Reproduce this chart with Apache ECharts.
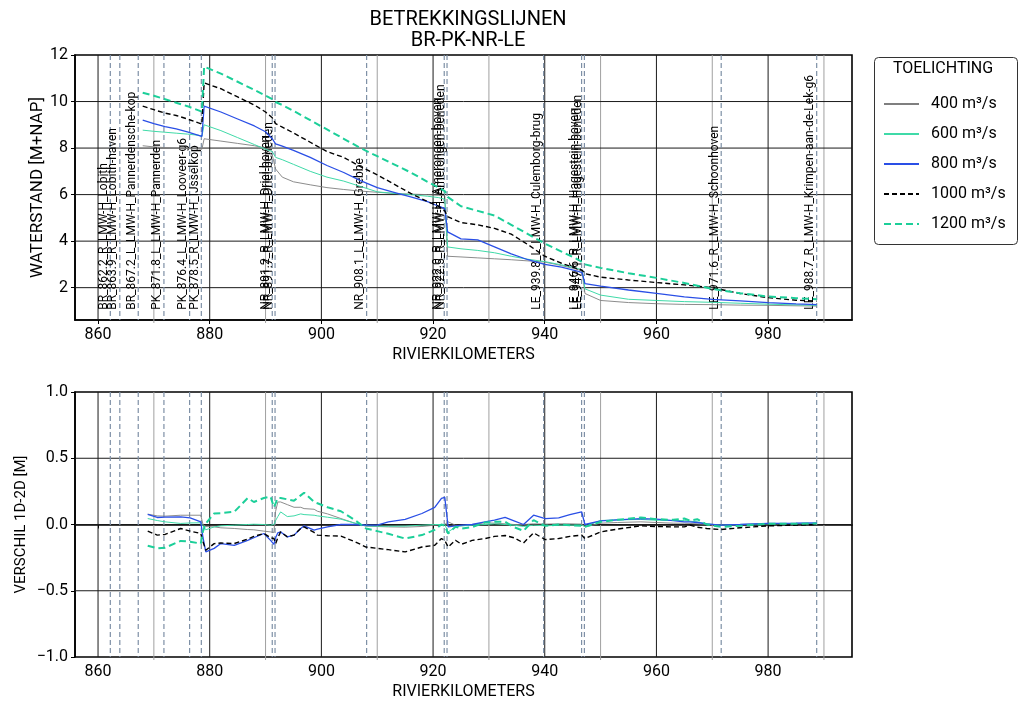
<!DOCTYPE html>
<html><head><meta charset="utf-8">
<script src="https://cdn.jsdelivr.net/npm/echarts@6/dist/echarts.min.js"></script>
<style>html,body{margin:0;padding:0;background:#fff}#c{width:1021px;height:704px}</style>
</head><body><div id="c"></div><script>
const FONT = 'Roboto, "DejaVu Sans", sans-serif';

// ---- data ----
const seriesNames = ['400 m³/s', '600 m³/s', '800 m³/s', '1000 m³/s', '1200 m³/s'];

const stationKm = [862.2, 863.9, 867.2, 871.8, 876.4, 878.5, 891.2, 891.7, 908.1, 922.0, 922.5, 939.8, 946.6, 947.1, 971.6, 988.7];
const stationLabels = ['BR_862.2_R_LMW-H_Lobith', 'BR_863.9_R_LMW-H_Lobith-haven', 'BR_867.2_L_LMW-H_Pannerdensche-kop',
  'PK_871.8_L_LMW-H_Pannerden', 'PK_876.4_L_LMW-H_Looveer-g6', 'PK_878.5_R_LMW-H_IJsselkop',
  'NR_891.2_R_LMW-H_Driel-boven', 'NR_891.7_R_LMW-H_Driel-beneden', 'NR_908.1_L_LMW-H_Grebbe',
  'NR_922.0_R_LMW-H_Amerongen-boven', 'NR_922.5_R_LMW-H_Amerongen-beneden', 'LE_939.8_L_LMW-H_Culemborg-brug',
  'LE_946.6_R_LMW-H_Hagestein-boven', 'LE_947.1_R_LMW-H_Hagestein-beneden', 'LE_971.6_R_LMW-H_Schoonhoven',
  'LE_988.7_R_LMW-H_Krimpen-aan-de-Lek-g6'];
const stationLabelY = 1.05;

const xTicks = [860, 880, 900, 920, 940, 960, 980];
const xMinorTicks = [870, 890, 910, 930, 950, 970, 990];
const topYTicks = [2, 4, 6, 8, 10, 12];
const botYTicks = [-1, -0.5, 0, 0.5, 1];

const topKm = [868, 870, 872, 874, 876, 878, 878.6, 879.0, 882, 885, 888, 890, 891.2, 891.8, 893, 895, 898, 901, 904, 907, 910, 913, 916, 919, 921, 922.1, 922.6, 925, 928, 931, 934, 937, 940, 943, 946, 946.7, 947.2, 950, 955, 960, 965, 970, 975, 980, 985, 988.7];
const top400 = [8.1, 8.05, 8.02, 8.0, 7.98, 7.96, 7.95, 8.4, 8.3, 8.2, 8.1, 8.0, 7.7, 7.1, 6.75, 6.55, 6.42, 6.3, 6.22, 6.15, 6.1, 6.05, 6.02, 6.0, 5.97, 5.95, 3.35, 3.32, 3.28, 3.24, 3.2, 3.15, 3.1, 2.95, 2.78, 2.7, 1.75, 1.45, 1.36, 1.31, 1.28, 1.27, 1.25, 1.24, 1.22, 1.21];
const top600 = [8.77, 8.72, 8.68, 8.64, 8.6, 8.55, 8.5, 9.0, 8.75, 8.45, 8.15, 7.95, 7.85, 7.6, 7.5, 7.3, 7.0, 6.75, 6.58, 6.35, 6.12, 6.05, 6.0, 5.93, 5.87, 5.8, 3.75, 3.67, 3.6, 3.5, 3.35, 3.22, 3.12, 2.98, 2.82, 2.75, 1.95, 1.68, 1.5, 1.45, 1.4, 1.37, 1.33, 1.29, 1.26, 1.24];
const top800 = [9.2, 9.05, 8.92, 8.82, 8.7, 8.55, 8.5, 9.8, 9.55, 9.25, 8.95, 8.7, 8.4, 8.18, 8.08, 7.9, 7.6, 7.25, 6.95, 6.6, 6.3, 6.1, 5.9, 5.7, 5.5, 5.4, 4.4, 4.1, 4.05, 3.75, 3.45, 3.2, 3.0, 2.88, 2.7, 2.65, 2.17, 2.07, 1.9, 1.75, 1.6, 1.5, 1.43, 1.36, 1.3, 1.27];
const top1000 = [9.8, 9.65, 9.5, 9.4, 9.25, 9.08, 9.03, 10.8, 10.55, 10.2, 9.85, 9.55, 9.3, 9.05, 8.9, 8.65, 8.25, 7.85, 7.6, 7.2, 6.85, 6.45, 6.05, 5.7, 5.5, 5.3, 5.05, 4.8, 4.7, 4.55, 4.3, 3.85, 3.35, 3.05, 2.8, 2.75, 2.6, 2.45, 2.33, 2.22, 2.12, 2.0, 1.75, 1.57, 1.46, 1.42];
const top1200 = [10.38, 10.25, 10.1, 9.95, 9.8, 9.62, 9.56, 11.5, 11.2, 10.85, 10.5, 10.25, 10.1, 9.98, 9.85, 9.6, 9.2, 8.8, 8.4, 8.0, 7.65, 7.3, 6.95, 6.55, 6.3, 6.15, 5.9, 5.5, 5.3, 5.1, 4.7, 4.3, 3.9, 3.55, 3.2, 3.1, 3.0, 2.85, 2.62, 2.42, 2.2, 1.95, 1.76, 1.62, 1.55, 1.5];

const botKm = [868.9, 870.6, 872, 874.8, 876.5, 878.4, 878.8, 879.3, 880.8, 882.0, 884.4, 886.8, 887.9, 889.7, 890.9, 891.5, 891.8, 892.2, 892.7, 893.9, 895.1, 896.3, 896.9, 898.7, 899.3, 901.1, 903.5, 906, 908, 910, 912, 915, 918, 920.3, 921.5, 922.1, 922.7, 924, 925.1, 927, 929.3, 931, 932.9, 934.5, 936.2, 938, 940.1, 942.5, 944.5, 946.6, 947.2, 950, 953, 957.2, 960, 963, 965, 966, 967.3, 969, 971.5, 975, 980, 985, 988.7];
const bot400 = [0.078, 0.065, 0.063, 0.07, 0.07, 0.07, 0.0, -0.015, -0.018, -0.025, -0.03, -0.038, -0.04, -0.05, -0.056, -0.06, 0.1, 0.17, 0.17, 0.15, 0.13, 0.13, 0.12, 0.115, 0.1, 0.08, 0.045, 0.01, -0.013, -0.015, -0.018, -0.02, -0.015, -0.005, 0, 0, 0.02, -0.005, -0.01, 0, 0.013, 0.01, 0.005, 0, 0, 0.005, 0.003, 0.005, 0.005, 0.003, -0.018, 0.01, 0.015, 0.02, 0.015, 0.01, 0.01, 0.008, 0.005, 0, -0.005, 0, 0.005, 0.005, 0.005];
const bot600 = [0.045, 0.03, 0.02, 0.008, 0.012, 0.013, -0.01, -0.04, -0.018, -0.01, -0.005, 0, 0.002, 0, -0.005, 0, 0.03, 0.06, 0.095, 0.06, 0.065, 0.08, 0.075, 0.07, 0.065, 0.055, 0.04, 0.01, -0.01, -0.013, -0.013, -0.012, -0.005, 0, 0, 0, -0.056, -0.02, -0.01, -0.005, 0, 0.005, 0, -0.005, -0.015, -0.005, -0.01, -0.005, -0.005, -0.005, -0.015, 0.03, 0.035, 0.038, 0.032, 0.03, 0.03, 0.025, 0.02, 0.005, -0.005, 0, 0.005, 0.008, 0.008];
const bot800 = [0.076, 0.053, 0.055, 0.058, 0.05, 0.02, -0.1, -0.207, -0.18, -0.144, -0.157, -0.12, -0.1, -0.068, -0.12, -0.15, -0.1, -0.063, -0.056, -0.093, -0.08, -0.03, -0.01, -0.043, -0.035, -0.018, 0, 0, -0.005, -0.005, 0.02, 0.038, 0.083, 0.129, 0.197, 0.205, -0.018, -0.01, -0.005, 0, 0.02, 0.033, 0.053, 0.028, 0, 0.07, 0.045, 0.05, 0.075, 0.096, 0, 0.028, 0.035, 0.045, 0.04, 0.03, 0.02, 0.02, 0.015, 0.005, -0.005, 0, 0.008, 0.01, 0.013];
const bot1000 = [-0.05, -0.08, -0.075, -0.03, -0.05, -0.068, -0.13, -0.194, -0.144, -0.14, -0.144, -0.11, -0.09, -0.068, -0.1, -0.106, -0.144, -0.1, -0.056, -0.093, -0.08, -0.03, -0.018, -0.06, -0.08, -0.085, -0.088, -0.13, -0.17, -0.18, -0.19, -0.207, -0.17, -0.157, -0.106, -0.12, -0.17, -0.119, -0.149, -0.12, -0.106, -0.09, -0.083, -0.1, -0.139, -0.063, -0.114, -0.106, -0.09, -0.08, -0.106, -0.056, -0.035, -0.01, -0.015, -0.018, -0.018, -0.005, -0.02, -0.03, -0.038, -0.025, -0.01, -0.005, 0];
const bot1200 = [-0.16, -0.18, -0.175, -0.124, -0.13, -0.144, -0.05, 0.008, 0.083, 0.085, 0.096, 0.2, 0.17, 0.2, 0.21, 0.13, 0.16, 0.2, 0.2, 0.19, 0.18, 0.22, 0.24, 0.17, 0.16, 0.13, 0.1, 0.033, -0.03, -0.05, -0.07, -0.106, -0.08, -0.04, 0, -0.01, -0.068, -0.018, -0.03, -0.02, 0.015, 0.02, 0.02, -0.02, -0.048, 0.033, -0.01, 0, -0.005, -0.01, -0.018, 0.02, 0.035, 0.053, 0.04, 0.035, 0.045, 0.03, 0.04, 0, -0.018, -0.01, 0.005, 0.005, 0.008];

// ---- styles ----
const lineStyles = [
  {color: '#7f7f7f', width: 0.9, type: 'solid'},
  {color: '#3fdaa8', width: 1.0, type: 'solid'},
  {color: '#2a4fe6', width: 1.3, type: 'solid'},
  {color: '#000000', width: 1.4, type: [5, 3]},
  {color: '#1ccf99', width: 2.0, type: [7, 4]}
];

const X_MIN = 855.875, X_MAX = 995.025;
const GRID_LEFT = 75, GRID_W = 777;

function pairs(xs, ys) { return xs.map((x, i) => [x, ys[i]]); }

function gridSeries(axisIdx, yTicks, yMin, yMax) {
  const data = [];
  xTicks.forEach(v => data.push([v, 'v', 1]));
  xMinorTicks.forEach(v => data.push([v, 'v', 0]));
  yTicks.forEach(v => data.push([v, 'h', 1]));
  return {
    type: 'custom', xAxisIndex: axisIdx, yAxisIndex: axisIdx, silent: true, z: 1,
    data: data.map(d => [d[1] === 'v' ? d[0] : 900, d[1] === 'h' ? d[0] : (yMin + yMax) / 2]),
    encode: {x: 0, y: 1},
    renderItem(params, api) {
      const cs = params.coordSys;
      const item = data[params.dataIndex];
      if (item[1] === 'v') {
        const x = api.coord([item[0], yMin])[0];
        return {type: 'line', shape: {x1: x, y1: cs.y, x2: x, y2: cs.y + cs.height + (item[2] ? 0 : 3)},
          style: {stroke: item[2] ? '#1a1a1a' : '#a0a0a0', lineWidth: 1}};
      } else {
        const y = api.coord([X_MIN, item[0]])[1];
        return {type: 'line', shape: {x1: cs.x, y1: y, x2: cs.x + cs.width, y2: y},
          style: {stroke: '#1a1a1a', lineWidth: 1}};
      }
    }
  };
}

function stationSeries(axisIdx, withLabels, yMin) {
  return {
    type: 'custom', xAxisIndex: axisIdx, yAxisIndex: axisIdx, silent: true, z: 3,
    data: stationKm.map((k, i) => [k, withLabels ? stationLabelY : yMin, i]),
    encode: {x: 0, y: 1},
    renderItem(params, api) {
      const cs = params.coordSys;
      const p = api.coord([api.value(0), api.value(1)]);
      const children = [{type: 'line', shape: {x1: p[0], y1: cs.y, x2: p[0], y2: cs.y + cs.height},
        style: {stroke: '#7e90a6', lineWidth: 1.2, lineDash: [5, 3]}}];
      if (withLabels) {
        children.push({type: 'text', x: p[0] - 0.5, y: p[1], rotation: Math.PI / 2,
          style: {text: stationLabels[api.value(2)], fontSize: 12, fontFamily: FONT, fill: '#000',
            align: 'left', verticalAlign: 'bottom'}});
      }
      return {type: 'group', children};
    }
  };
}

function dataSeries(axisIdx, xs, arrs) {
  return arrs.map((arr, i) => ({
    name: seriesNames[i], type: 'line', xAxisIndex: axisIdx, yAxisIndex: axisIdx,
    data: pairs(xs, arr), showSymbol: false, symbol: 'none', z: 4 + i,
    lineStyle: lineStyles[i], itemStyle: {color: lineStyles[i].color}, animation: false
  }));
}

const axisText = {fontFamily: FONT, fontSize: 16, color: '#000'};

const chart = echarts.init(document.getElementById('c'), null, {renderer: 'canvas'});
chart.setOption({
  animation: false,
  backgroundColor: '#fff',
  title: {text: 'BETREKKINGSLIJNEN\nBR-PK-NR-LE', left: 463, top: 4, textAlign: 'center',
    textStyle: {fontFamily: FONT, fontSize: 20, fontWeight: 'normal', color: '#000', lineHeight: 21}},
  grid: [
    {left: GRID_LEFT, top: 55, width: GRID_W, height: 265, show: true, borderColor: '#000', borderWidth: 1.6, backgroundColor: 'transparent', outerBoundsMode: 'none', containLabel: false},
    {left: GRID_LEFT, top: 392, width: GRID_W, height: 265, show: true, borderColor: '#000', borderWidth: 1.6, backgroundColor: 'transparent', outerBoundsMode: 'none', containLabel: false}
  ],
  xAxis: [0, 1].map(i => ({
    type: 'value', gridIndex: i, min: X_MIN, max: X_MAX,
    name: 'RIVIERKILOMETERS', nameLocation: 'middle', nameGap: 27, nameTextStyle: axisText, nameMoveOverlap: false,
    axisLine: {show: true, lineStyle: {color: '#000', width: 1.6}},
    axisTick: {show: true, length: 4, inside: false, customValues: xTicks, lineStyle: {color: '#000'}},
    axisLabel: {customValues: xTicks, ...axisText, margin: 7, showMinLabel: true, showMaxLabel: true},
    splitLine: {show: false}
  })),
  yAxis: [
    {type: 'value', gridIndex: 0, min: 0.61, max: 12,
      name: 'WATERSTAND [M+NAP]', nameLocation: 'middle', nameRotate: 90, nameGap: 29, nameMoveOverlap: false,
      nameTextStyle: {fontFamily: FONT, fontSize: 17, color: '#000'},
      axisLine: {show: true, lineStyle: {color: '#000', width: 1.6}},
      axisTick: {show: true, length: 4, customValues: topYTicks, lineStyle: {color: '#000'}},
      axisLabel: {customValues: topYTicks, ...axisText, margin: 7},
      splitLine: {show: false}},
    {type: 'value', gridIndex: 1, min: -1, max: 1, interval: 0.5,
      name: 'VERSCHIL 1D-2D [M]', nameLocation: 'middle', nameRotate: 90, nameGap: 46, nameMoveOverlap: false,
      nameTextStyle: {fontFamily: FONT, fontSize: 15, color: '#000'},
      axisLine: {show: true, lineStyle: {color: '#000', width: 1.6}},
      axisTick: {show: true, length: 4, lineStyle: {color: '#000'}},
      axisLabel: {...axisText, margin: 7, formatter: v => v.toFixed(1).replace('-', '\u2212')},
      splitLine: {show: false}}
  ],
  legend: {
    data: seriesNames, orient: 'vertical', left: 878, top: 91, itemWidth: 35, itemHeight: 14, itemGap: 14,
    selectedMode: false, itemStyle: {opacity: 0},
    textStyle: {fontFamily: FONT, fontSize: 16, color: '#000', padding: [0, 0, 0, 7]}
  },
  graphic: [
    {type: 'rect', left: 872, top: 55, shape: {width: 143, height: 187, r: 4}, style: {fill: 'none', stroke: '#333', lineWidth: 1}, z: 10},
    {type: 'text', x: 943, y: 69, style: {text: 'TOELICHTING', fontFamily: FONT, fontSize: 16, fill: '#000', align: 'center', verticalAlign: 'middle'}, z: 10}
  ],
  series: [
    gridSeries(0, [2, 4, 6, 8, 10], 0.61, 12),
    gridSeries(1, [-0.5, 0, 0.5], -1, 1),
    stationSeries(0, true, 0.61),
    stationSeries(1, false, -1),
    ...dataSeries(0, topKm, [top400, top600, top800, top1000, top1200]),
    ...dataSeries(1, botKm, [bot400, bot600, bot800, bot1000, bot1200])
  ]
});
</script></body></html>
